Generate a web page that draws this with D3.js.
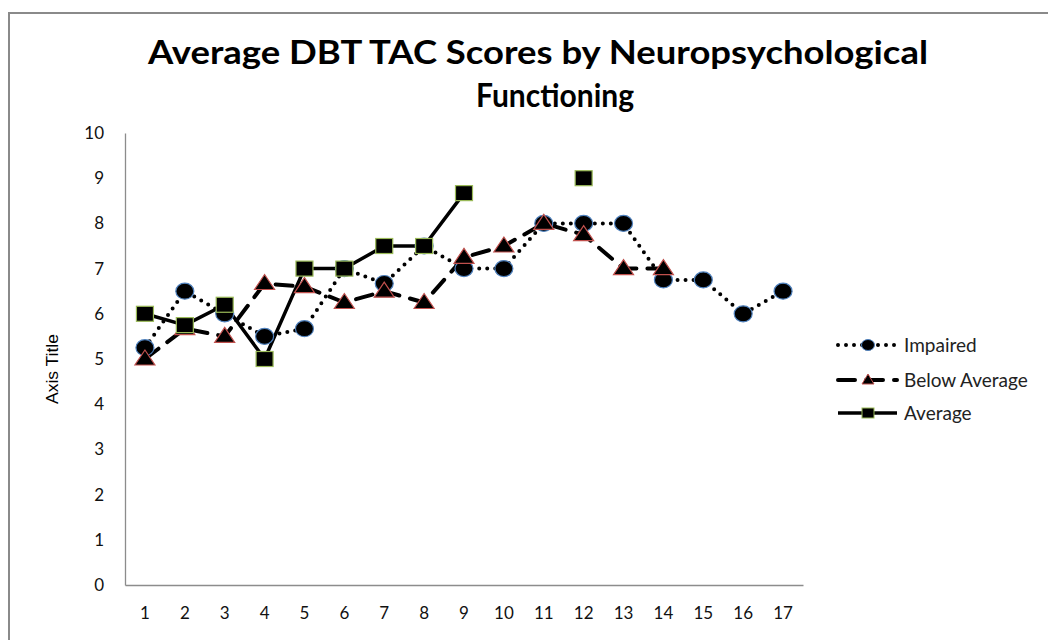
<!DOCTYPE html>
<html><head><meta charset="utf-8">
<script src="https://cdn.jsdelivr.net/npm/d3@7"></script>
<style>body{margin:0;background:#fff}svg{display:block}</style>
</head><body>
<svg id="c" width="1048" height="640"></svg>
<script>
const categories = ["1","2","3","4","5","6","7","8","9","10","11","12","13","14","15","16","17"];
const impaired = [5.25,6.5,6.0,5.5,5.67,7.0,6.67,7.5,7.0,7.0,8.0,8.0,8.0,6.75,6.75,6.0,6.5];
const belowAverage = [5.0,5.67,5.5,6.67,6.6,6.25,6.5,6.25,7.25,7.5,8.0,7.75,7.0,7.0,null,null,null];
const average = [6.0,5.75,6.2,5.0,7.0,7.0,7.5,7.5,8.67,null,null,9.0,null,null,null,null,null];
const yTicks = [0,1,2,3,4,5,6,7,8,9,10];
const seriesNames = ["Impaired","Below Average","Average"];

const svg = d3.select("#c");
const font = "Lato, 'Open Sans', sans-serif";

// frame
svg.append("rect").attr("x",9).attr("y",13).attr("width",1100).attr("height",700)
  .attr("fill","#fff").attr("stroke","#8a8a8a").attr("stroke-width",2);

const pLeft=125, pRight=803, pTop=133, pBottom=585;
const x = d3.scaleBand().domain(categories).range([pLeft,pRight]);
const y = d3.scaleLinear().domain([0,10]).range([pBottom,pTop]);
const cx = d => x(d)+x.bandwidth()/2;

// title
svg.append("text").attr("x",538).attr("y",64).attr("text-anchor","middle")
  .attr("font-family",font).attr("font-weight","bold").attr("font-size",32).attr("fill","#000")
  .attr("textLength",780).attr("lengthAdjust","spacingAndGlyphs")
  .text("Average DBT TAC Scores by Neuropsychological");
svg.append("text").attr("x",555).attr("y",107).attr("text-anchor","middle")
  .attr("font-family",font).attr("font-weight","bold").attr("font-size",32).attr("fill","#000")
  .attr("textLength",158).attr("lengthAdjust","spacingAndGlyphs")
  .text("Functioning");

// axes
const yAxis = svg.append("g").attr("transform",`translate(${pLeft},0)`)
  .call(d3.axisLeft(y).tickValues(yTicks).tickSize(0).tickPadding(21));
const xAxis = svg.append("g").attr("transform",`translate(0,${pBottom})`)
  .call(d3.axisBottom(x).tickSize(0).tickPadding(22));
[yAxis,xAxis].forEach(g=>{
  g.select(".domain").attr("stroke","#8c8c8c").attr("stroke-width",1.3);
  g.selectAll("text").attr("font-family",font).attr("font-size",17).attr("fill","#111");
});

// axis title
svg.append("text").attr("transform","translate(58,369) rotate(-90)").attr("text-anchor","middle")
  .attr("font-family","'Liberation Sans Narrow', 'Liberation Sans', sans-serif").attr("font-size",17).attr("fill","#000")
  .attr("textLength",70).attr("lengthAdjust","spacingAndGlyphs")
  .text("Axis Title");

const styles = [
  {dash:"0,8", cap:"round", w:4, marker:"circle", stroke:"#4f81bd"},
  {dash:"17,11", cap:"round", w:4, marker:"triangle", stroke:"#c0504d"},
  {dash:null, cap:"butt", w:3.5, marker:"square", stroke:"#9bbb59"}
];
const data = [impaired, belowAverage, average];

function drawMarker(g, type, px, py, stroke){
  if(type==="circle"){
    g.append("ellipse").attr("cx",px).attr("cy",py).attr("rx",9).attr("ry",8)
      .attr("fill","#000").attr("stroke",stroke).attr("stroke-width",1.2);
  } else if(type==="triangle"){
    g.append("path").attr("d",`M${px},${py-9}L${px+10},${py+6}L${px-10},${py+6}Z`)
      .attr("fill","#000").attr("stroke",stroke).attr("stroke-width",1.2);
  } else {
    g.append("rect").attr("x",px-8.5).attr("y",py-7.5).attr("width",17).attr("height",15)
      .attr("fill","#000").attr("stroke",stroke).attr("stroke-width",1.2);
  }
}

data.forEach((vals,i)=>{
  const st = styles[i];
  const pts = categories.map((c,j)=>({c, v: vals[j]}));
  const line = d3.line().defined(d=>d.v!=null).x(d=>cx(d.c)).y(d=>y(d.v));
  svg.append("path").datum(pts).attr("d",line).attr("fill","none").attr("stroke","#000")
    .attr("stroke-width",st.w).attr("stroke-linecap",st.cap).attr("stroke-linejoin","round")
    .attr("stroke-dasharray",st.dash);
});
data.forEach((vals,i)=>{
  const st = styles[i];
  const g = svg.append("g");
  categories.forEach((c,j)=>{ if(vals[j]!=null) drawMarker(g, st.marker, cx(c), y(vals[j]), st.stroke); });
});

// legend
const legY = [345,380,413];
seriesNames.forEach((n,i)=>{
  const st = styles[i];
  svg.append("line").attr("x1",838).attr("x2",897).attr("y1",legY[i]).attr("y2",legY[i])
    .attr("stroke","#000").attr("stroke-width",st.w).attr("stroke-linecap",st.cap)
    .attr("stroke-dasharray",st.dash);
  const g = svg.append("g");
  if(st.marker==="circle"){
    g.append("ellipse").attr("cx",868).attr("cy",legY[i]).attr("rx",6.5).attr("ry",5.5)
      .attr("fill","#000").attr("stroke",st.stroke).attr("stroke-width",1);
  } else if(st.marker==="triangle"){
    g.append("path").attr("d",`M868,${legY[i]-6}L874,${legY[i]+4}L862,${legY[i]+4}Z`)
      .attr("fill","#000").attr("stroke",st.stroke).attr("stroke-width",1);
  } else {
    g.append("rect").attr("x",862).attr("y",legY[i]-5).attr("width",12).attr("height",10)
      .attr("fill","#000").attr("stroke",st.stroke).attr("stroke-width",1);
  }
  svg.append("text").attr("x",904).attr("y",legY[i]).attr("dy","0.35em")
    .attr("font-family",font).attr("font-size",19).attr("fill","#222").text(n);
});
</script>
</body></html>
